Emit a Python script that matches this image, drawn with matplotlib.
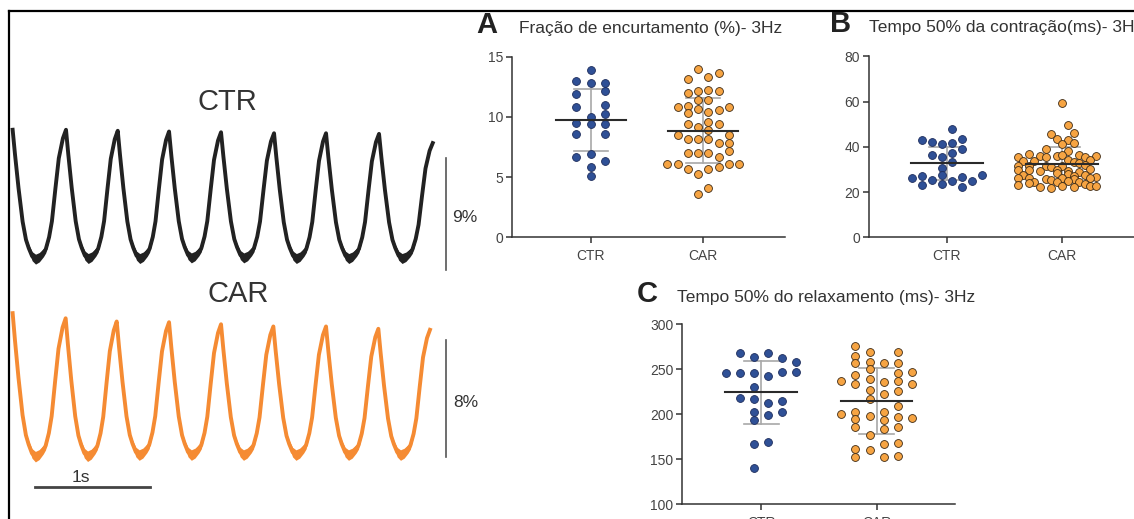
import numpy as np
import matplotlib.pyplot as plt
from matplotlib.lines import Line2D

plt.rcParams["font.family"] = ["Liberation Sans", "DejaVu Sans"]

W, H = 1134, 519

# ---------------- traces (time in s, cell length change in %) ----------------
ctr_peak_t = [0.023, 0.487, 0.937, 1.383, 1.835, 2.296, 2.748, 3.209, 3.676]
ctr_peak_y = [-0.10, -0.10, -0.18, -0.24, -0.30, -0.38, -0.38, -0.43, -1.17]
ctr_trough_y = [-10.50, -10.45, -10.45, -10.40, -10.40, -10.45, -10.45, -10.45]

car_peak_t = [0.023, 0.484, 0.928, 1.383, 1.835, 2.290, 2.748, 3.203, 3.652]
car_peak_y = [-0.10, -0.45, -0.67, -0.72, -0.86, -1.01, -1.01, -1.17, -1.24]
car_trough_y = [-9.93, -9.90, -9.82, -9.82, -9.82, -9.82, -9.82, -9.82]

# shape of one beat (fraction of beat, fraction of depth)
beat_frac = [0, .044, .11, .187, .25, .302, .365, .429, .5, .577, .621, .683, .736, .802, .865, .942]
beat_depth = [0, .19, .45, .71, .85, .915, .977, 1.0, .985, .95, .923, .83, .707, .452, .22, .066]

# ---------------- scatter data ----------------
groups = ["CTR", "CAR"]

# A - Fração de encurtamento (%)
fs_ctr = [13.84, 12.93, 12.82, 12.82, 11.87, 12.12, 10.77, 10.99, 9.96, 10.21,
          9.52, 9.36, 9.36, 8.61, 8.55, 6.70, 6.92, 6.34, 5.84, 5.09]
fs_ctr_slot = [0, -1, 0, 1, -1, 1, -1, 1, 0, 1, -1, 0, 1, -1, 1, -1, 0, 1, 0, 0]
fs_car = [13.98, 13.67, 13.15, 13.31, 12.01, 12.15, 12.23, 12.10, 11.40, 11.40,
          10.85, 10.91, 10.66, 10.41, 10.52, 10.85, 10.30, 9.41, 9.13, 9.55, 9.36,
          8.50, 8.91, 8.50, 8.14, 8.14, 8.14, 7.86, 7.86,
          7.00, 7.00, 7.00, 6.70, 7.14, 6.06, 6.06, 5.87, 6.06, 6.06,
          5.67, 5.26, 5.67, 3.57, 4.07]
fs_car_slot = [-0.5, 1.5, -1.5, 0.5, -1.5, -0.5, 0.5, 1.5, -0.5, 0.5,
               -2.5, -1.5, -0.5, 0.5, 1.5, 2.5, -1.5, -1.5, -0.5, 0.5, 1.5,
               -2.5, 0.5, 2.5, -1.5, -0.5, 0.5, 1.5, 2.5,
               -1.5, -0.5, 0.5, 1.5, 2.5, -3.5, -2.5, 1.5, 2.5, 3.5,
               -1.5, -0.5, 0.5, -0.5, 0.5]
fs_mean = [9.74, 8.86]
fs_sd = [2.60, 2.70]

# B - Tempo 50% da contração (ms)
tc_ctr = [48.0, 42.9, 42.1, 41.1, 41.5, 43.6, 38.9, 36.2, 35.7, 37.1, 33.1, 30.8,
          26.1, 27.3, 27.6, 26.7, 24.9, 27.4, 23.1, 25.3, 23.7, 25.0, 22.4]
tc_ctr_slot = [0.5, -2.5, -1.5, -0.5, 0.5, 1.5, 1.5, -1.5, -0.5, 0.5, 0.5, -0.5,
               -3.5, -2.5, -0.5, 1.5, 2.5, 3.5, -2.5, -1.5, -0.5, 0.5, 1.5]
tc_car = [59.5, 49.6, 45.8, 43.6, 43.0, 46.0, 41.5, 41.3, 39.0, 38.3,
          36.8, 36.1, 35.9, 36.2, 36.4, 35.7, 36.1, 35.7, 35.7,
          33.7, 33.9, 34.2, 33.1, 32.7, 34.2,
          31.7, 31.7, 31.7, 31.2, 31.7, 32.0,
          29.8, 29.8, 29.5, 29.8, 29.3, 29.0, 30.0,
          27.6, 28.3, 27.8, 27.3, 27.6,
          26.1, 26.4, 25.8, 26.1, 25.8, 26.5, 26.1,
          24.3, 25.3, 24.6, 24.9, 24.6,
          23.1, 23.9, 22.4, 22.0, 22.8, 22.1, 23.6, 22.8, 22.8]
tc_car_slot = [0, 1, -2, -1, 1, 2, 2, 0, -3, 1,
               -6, -4, -1, 0, 3, 4, 6, -8, -3,
               -7, -5, 1, 2, 3, 5,
               -8, -6, -3, -2, 0, 4,
               -8, -6, -4, -1, 1, 3, 5,
               -7, -1, 1, 2, 4,
               -8, -6, -3, 0, 2, 6, 5,
               -5, -2, -1, 1, 3,
               -8, -6, -4, -2, 0, 2, 4, 5, 6]
tc_mean = [32.7, 32.3]
tc_sd = [7.4, 7.8]

# C - Tempo 50% do relaxamento (ms)
tr_ctr = [268.5, 264.1, 268.5, 262.2, 258.5, 245.6, 245.6, 245.6, 243.0, 246.7, 246.7,
          230.0, 217.8, 217.0, 212.2, 215.2, 202.2, 199.3, 203.0, 193.7, 166.7, 169.6, 140.7]
tr_ctr_slot = [-1.5, -0.5, 0.5, 1.5, 2.5, -2.5, -1.5, -0.5, 0.5, 1.5, 2.5,
               -0.5, -1.5, -0.5, 0.5, 1.5, -0.5, 0.5, 1.5, -0.5, -0.5, 0.5, -0.5]
tr_car = [275.9, 269.6, 269.6, 265.2, 256.7, 257.8, 256.7, 256.7, 250.0, 243.7, 247.4, 246.3,
          239.3, 237.0, 233.3, 235.6, 237.4, 233.7, 227.0, 225.9, 223.0, 217.0, 209.3,
          200.0, 203.0, 198.5, 203.0, 196.7, 196.3, 194.4, 193.3, 185.6, 183.3, 185.6,
          177.0, 167.0, 167.8, 161.5, 160.4, 152.2, 153.0, 154.1]
tr_car_slot = [-1.5, -0.5, 1.5, -1.5, -1.5, -0.5, 0.5, 1.5, -0.5, -1.5, 2.5, 1.5,
               -0.5, -2.5, -1.5, 0.5, 1.5, 2.5, -0.5, 1.5, 0.5, -0.5, 1.5,
               -2.5, -1.5, -0.5, 0.5, 1.5, 2.5, -1.5, 0.5, -1.5, 0.5, 1.5,
               -0.5, 0.5, 1.5, -1.5, -0.5, -1.5, 0.5, 1.5]
tr_mean = [224.4, 215.2]
tr_sd = [34.9, 36.6]

# ---------------- styles ----------------
CTR_FILL, CTR_EDGE = "#2F5096", "#1E2D5C"
CAR_FILL, CAR_EDGE = "#F6A443", "#3D2A14"
CTR_TRACE, CAR_TRACE = "#222222", "#F58B33"
TXT = "#333333"


def px(x, y):
    return x / W, 1 - y / H


def build_trace(peak_t, peak_y, trough_y):
    t, y, d = [], [], []
    for i in range(len(peak_t) - 1):
        for k, (f, dep) in enumerate(zip(beat_frac, beat_depth)):
            base = peak_y[i] if k <= 7 else peak_y[i + 1]
            t.append(peak_t[i] + f * (peak_t[i + 1] - peak_t[i]))
            y.append(base + dep * (trough_y[i] - base))
            d.append(dep)
    t.append(peak_t[-1])
    y.append(peak_y[-1])
    d.append(0.0)
    return np.array(t), np.array(y), np.array(d)


fig = plt.figure(figsize=(W / 100, H / 100), dpi=100)

# frame lines of the figure
fig.add_artist(Line2D([8.5 / W, 1], [1 - 10.5 / H] * 2, transform=fig.transFigure,
                      color="black", lw=1.6))
fig.add_artist(Line2D([8.5 / W] * 2, [1 - 10.5 / H, 0], transform=fig.transFigure,
                      color="black", lw=1.6))

# ---------------- trace panels ----------------
ax_ctr = fig.add_axes([10 / W, 1 - 290 / H, 470 / W, 210 / H])
ax_ctr.set_xlim(0, 470 / 115)
ax_ctr.set_ylim(-12.98, 3.90)
ax_ctr.axis("off")
t, y, d = build_trace(ctr_peak_t, ctr_peak_y, ctr_trough_y)
band = 0.40 * d ** 4
ax_ctr.fill_between(t, y - band, y + band, color=CTR_TRACE, lw=0)
ax_ctr.plot(t, y, color=CTR_TRACE, lw=2.8, solid_joinstyle="round")
ax_ctr.plot([3.791, 3.791], [-2.395, -11.395], color="#555555", lw=1.2)

ax_car = fig.add_axes([10 / W, 0, 470 / W, 229 / H])
ax_car.set_xlim(0, 470 / 115)
ax_car.set_ylim(-14.199, 1.486)
ax_car.axis("off")
t, y, d = build_trace(car_peak_t, car_peak_y, car_trough_y)
band = 0.36 * d ** 4
ax_car.fill_between(t, y - band, y + band, color=CAR_TRACE, lw=0)
ax_car.plot(t, y, color=CAR_TRACE, lw=2.8, solid_joinstyle="round")
ax_car.plot([3.791, 3.791], [-1.938, -9.938], color="#555555", lw=1.2)
ax_car.plot([0.217, 1.217], [-11.986, -11.986], color="#444444", lw=2.0)

fig.text(*px(227, 110), "CTR", fontsize=21, color=TXT, ha="center", va="baseline")
fig.text(*px(238, 302), "CAR", fontsize=21, color=TXT, ha="center", va="baseline")
fig.text(*px(452, 222), "9%", fontsize=12.5, color=TXT, ha="left", va="baseline")
fig.text(*px(453, 407), "8%", fontsize=12.5, color=TXT, ha="left", va="baseline")
fig.text(*px(81, 482), "1s", fontsize=12.5, color=TXT, ha="center", va="baseline")


# ---------------- dot plots ----------------
def dot_panel(rect, xlim, ylim, yticks, ctr, ctr_slot, car, car_slot,
              mean, sd, spacing):
    ax = fig.add_axes(rect)
    for i, (vals, slots, fc, ec) in enumerate([(ctr, ctr_slot, CTR_FILL, CTR_EDGE),
                                               (car, car_slot, CAR_FILL, CAR_EDGE)]):
        xs = i + np.array(slots) * spacing[i]
        ax.scatter(xs, vals, s=32, color=fc, edgecolor=ec, linewidth=0.6, zorder=3,
                   clip_on=False)
        ax.plot([i, i], [mean[i] - sd[i], mean[i] + sd[i]], color="#A8A8A8", lw=1.2, zorder=2)
        for yy in (mean[i] - sd[i], mean[i] + sd[i]):
            ax.plot([i - 0.15, i + 0.15], [yy, yy], color="#A8A8A8", lw=1.2, zorder=2)
        ax.plot([i - 0.31, i + 0.31], [mean[i], mean[i]], color="#2A2A2A", lw=1.5, zorder=4)
    ax.set_xlim(*xlim)
    ax.set_ylim(*ylim)
    ax.set_yticks(yticks)
    ax.set_xticks([0, 1])
    ax.set_xticklabels(groups)
    for s in ("top", "right"):
        ax.spines[s].set_visible(False)
    for s in ("left", "bottom"):
        ax.spines[s].set_color("#333333")
        ax.spines[s].set_linewidth(1.1)
    ax.tick_params(length=4.5, width=1.1, color="#333333", labelcolor="#444444",
                   labelsize=10)
    ax.tick_params(axis="x", pad=4)
    ax.tick_params(axis="y", pad=2)
    return ax


dot_panel([512 / W, 1 - 237.3 / H, 273 / W, 180.8 / H], (-0.699, 1.726), (0, 15),
          [0, 5, 10, 15], fs_ctr, fs_ctr_slot, fs_car, fs_car_slot, fs_mean, fs_sd,
          (0.129, 0.0915))
dot_panel([869 / W, 1 - 237.3 / H, 273 / W, 181 / H], (-0.672, 1.689), (0, 80),
          [0, 20, 40, 60, 80], tc_ctr, tc_ctr_slot, tc_car, tc_car_slot, tc_mean, tc_sd,
          (0.0865, 0.0484))
dot_panel([682.3 / W, 1 - 504.3 / H, 272.7 / W, 180 / H], (-0.684, 1.68), (100, 300),
          [100, 150, 200, 250, 300], tr_ctr, tr_ctr_slot, tr_car, tr_car_slot, tr_mean, tr_sd,
          (0.121, 0.122))

# panel letters and titles
fig.text(*px(476, 33), "A", fontsize=21, fontweight="bold", color="#222222", va="baseline")
fig.text(*px(519, 33), "Fração de encurtamento (%)- 3Hz", fontsize=12.5, color=TXT,
         va="baseline")
fig.text(*px(830, 32), "B", fontsize=21, fontweight="bold", color="#222222", va="baseline")
fig.text(*px(869, 32), "Tempo 50% da contração(ms)- 3Hz", fontsize=12.5, color=TXT,
         va="baseline")
fig.text(*px(637, 302), "C", fontsize=21, fontweight="bold", color="#222222", va="baseline")
fig.text(*px(677, 302), "Tempo 50% do relaxamento (ms)- 3Hz", fontsize=12.5, color=TXT,
         va="baseline")

fig.savefig("out.png", dpi=100)
